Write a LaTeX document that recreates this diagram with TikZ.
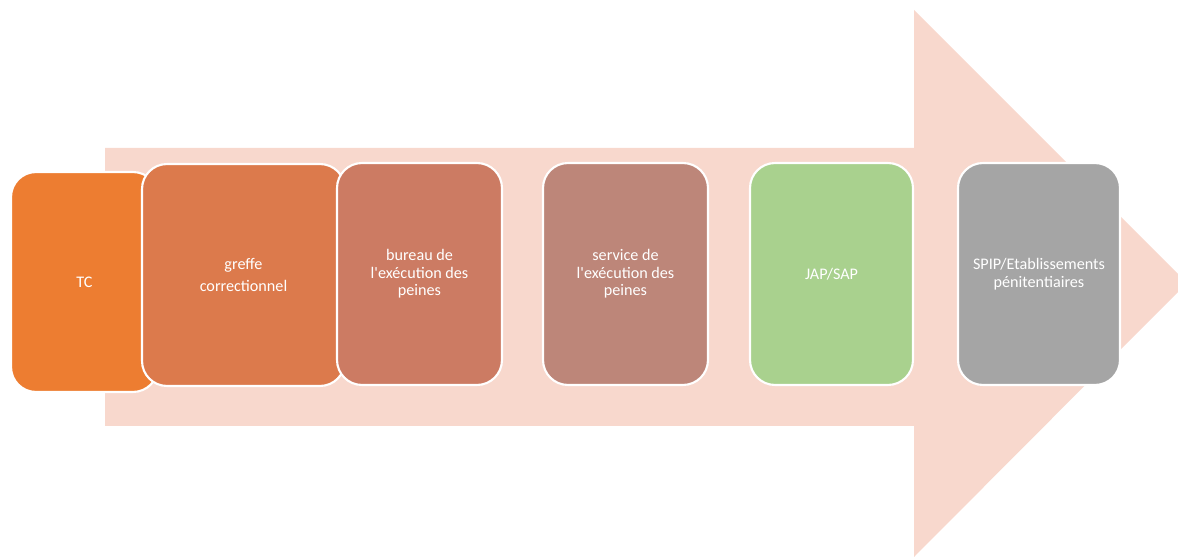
\documentclass[tikz,border=0pt]{standalone}
\usepackage{fontspec}
\setmainfont{Carlito}[Ligatures=TeXOff]
\definecolor{arrowpink}{HTML}{F8D8CD}
\definecolor{ctc}{HTML}{ED7D31}
\definecolor{cgreffe}{HTML}{DC7A4C}
\definecolor{cbureau}{HTML}{CC7B63}
\definecolor{cservice}{HTML}{BD8679}
\definecolor{cjap}{HTML}{A9D18E}
\definecolor{cspip}{HTML}{A5A5A5}
\begin{document}
\begin{tikzpicture}[x=0.02cm,y=-0.02cm,
  stagebox/.style={draw=white, line width=1.2pt, rounded corners=0.5cm,
    text=white, align=center, inner sep=0pt,
    font=\fontsize{9.2pt}{10pt}\selectfont}]
\useasboundingbox (0,0) rectangle (1178,557);
\clip (0,0) rectangle (1178,557);
\fill[arrowpink] (105,148) -- (914,148) -- (914,10) -- (1187,283) -- (914,557) -- (914,426) -- (105,426) -- cycle;
\node[stagebox, fill=ctc, minimum width=2.94cm, minimum height=4.4cm] (tc) at (84.5,282) {TC};
\node[stagebox, fill=cgreffe, minimum width=4.06cm, minimum height=4.44cm,
  font=\fontsize{9.2pt}{13pt}\selectfont] (greffe) at (243.5,275) {greffe\\correctionnel};
\node[stagebox, fill=cbureau, minimum width=3.3cm, minimum height=4.44cm] (bureau) at (419.5,274) {bureau de\\l'exécution des\\peines};
\node[stagebox, fill=cservice, minimum width=3.3cm, minimum height=4.44cm] (service) at (625.5,274) {service de\\l'exécution des\\peines};
\node[stagebox, fill=cjap, minimum width=3.26cm, minimum height=4.44cm] (jap) at (831.5,274) {JAP/SAP};
\node[stagebox, fill=cspip, minimum width=3.24cm, minimum height=4.44cm] (spip) at (1039,274) {SPIP/Etablissements\\pénitentiaires};
\end{tikzpicture}
\end{document}
